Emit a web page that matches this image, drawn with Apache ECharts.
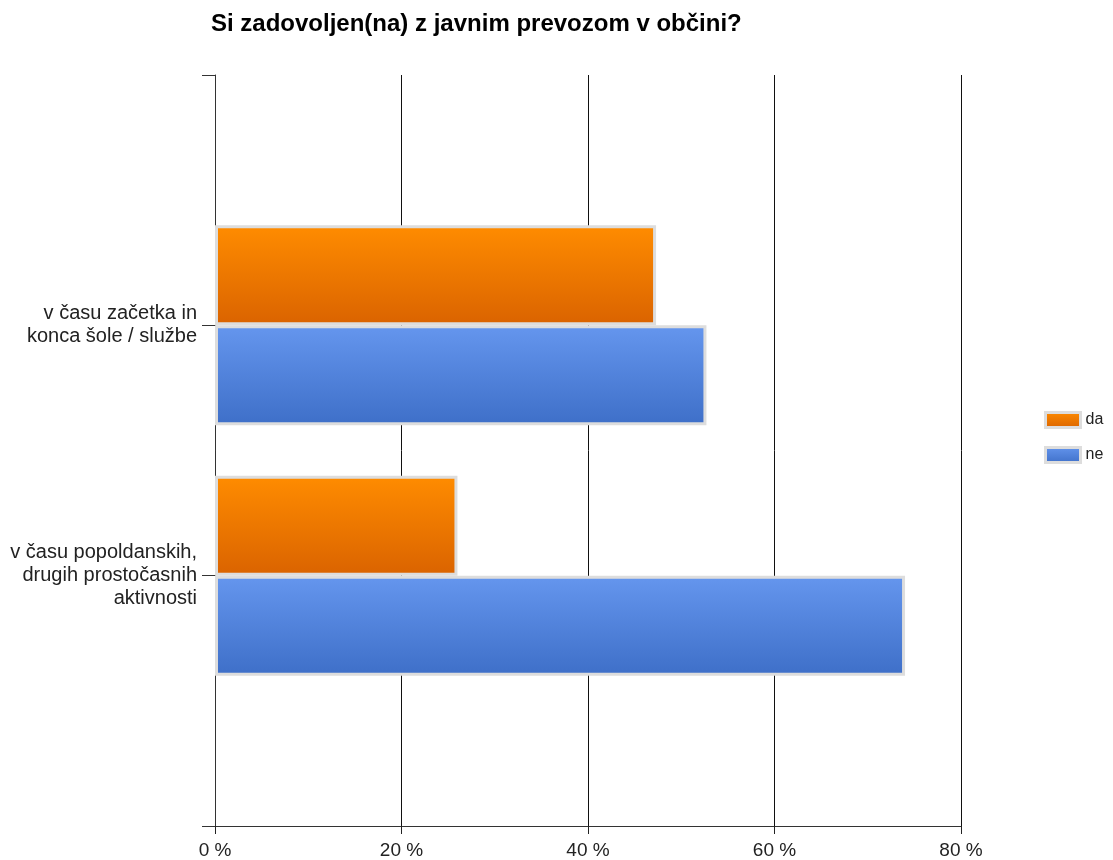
<!DOCTYPE html>
<html>
<head>
<meta charset="utf-8">
<script src="https://cdn.jsdelivr.net/npm/echarts@6/dist/echarts.min.js"></script>
<style>
html,body{margin:0;padding:0;background:#fff;}
#c{width:1113px;height:860px;}
</style>
</head>
<body>
<div id="c"></div>
<script>
const titleText = 'Si zadovoljen(na) z javnim prevozom v občini?';
const categories = ['', 'v času začetka in\nkonca šole / službe', 'v času popoldanskih,\ndrugih prostočasnih\naktivnosti', ''];
const seriesNames = ['da', 'ne'];
const daValues = [null, 47.3, 26.0, null];
const neValues = [null, 52.7, 74.0, null];
const xTicks = [0, 20, 40, 60, 80];

const chart = echarts.init(document.getElementById('c'), null, {renderer: 'canvas'});
const font = 'Liberation Sans, Arial, sans-serif';
function grad(top, bottom) {
  return new echarts.graphic.LinearGradient(0, 0, 0, 1, [
    {offset: 0, color: top}, {offset: 1, color: bottom}
  ]);
}
chart.setOption({
  animation: false,
  title: {
    text: titleText, left: 206, top: 7,
    textStyle: {fontFamily: font, fontSize: 24, fontWeight: 'bold', color: '#000'}
  },
  legend: {
    orient: 'vertical', left: 1039, top: 406,
    icon: 'rect',
    itemWidth: 35, itemHeight: 15, itemGap: 17,
    itemStyle: {borderColor: '#DDDDDD', borderWidth: 3},
    textStyle: {fontFamily: font, fontSize: 16, color: '#222'},
    data: seriesNames
  },
  grid: {left: 215, right: 152, top: 75, bottom: 34, containLabel: false},
  xAxis: {
    type: 'value', min: xTicks[0], max: xTicks[xTicks.length - 1], interval: 20,
    axisLine: {show: true, lineStyle: {color: '#333', width: 1}},
    axisTick: {show: true, length: 8, lineStyle: {color: '#222'}},
    axisLabel: {formatter: '{value} %', fontFamily: font, fontSize: 19, color: '#222', margin: 15},
    splitLine: {show: true, lineStyle: {color: '#111', width: 1}}
  },
  yAxis: {
    type: 'category', data: categories, inverse: true, boundaryGap: false,
    axisLine: {show: true, lineStyle: {color: '#333', width: 1}},
    axisTick: {show: true, length: 13, inside: false, lineStyle: {color: '#333'}},
    axisLabel: {fontFamily: font, fontSize: 20, color: '#222', margin: 18, lineHeight: 23, align: 'right'},
    splitLine: {show: false}
  },
  series: [
    {
      name: seriesNames[0], type: 'bar', data: daValues, barWidth: 100, barGap: '0%',
      itemStyle: {color: grad('#FF8C00', '#DA6300'), borderColor: '#DDDDDD', borderWidth: 3}
    },
    {
      name: seriesNames[1], type: 'bar', data: neValues, barWidth: 100, barGap: '0%',
      itemStyle: {color: grad('#6596EE', '#3E6FC8'), borderColor: '#DDDDDD', borderWidth: 3}
    }
  ]
});
</script>
</body>
</html>
